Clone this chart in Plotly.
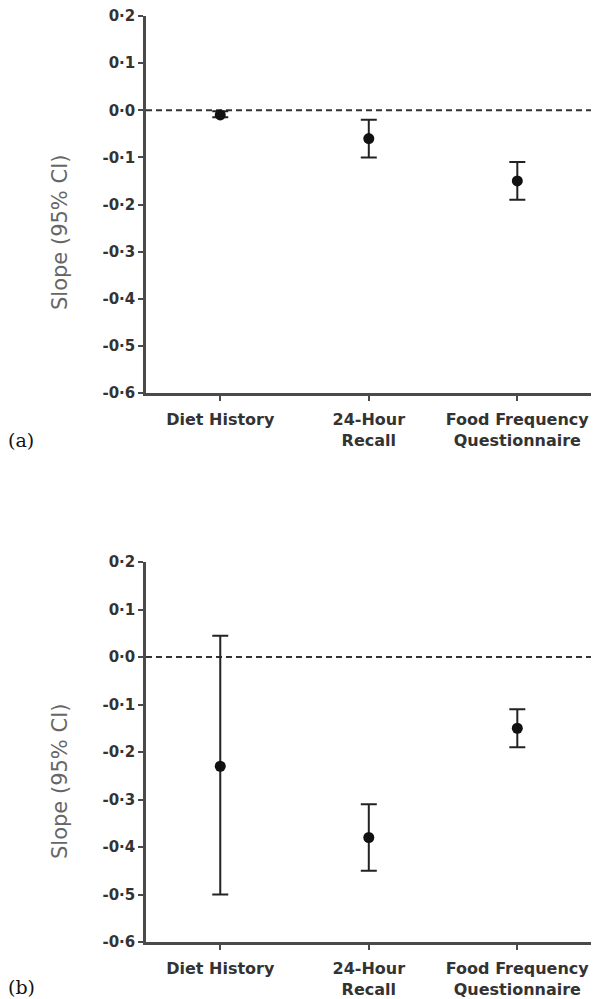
import plotly.graph_objects as go

# categories shared by both panels
categories = ["Diet History", "24-Hour Recall", "Food Frequency Questionnaire"]
cat_labels = ["Diet History", "24-Hour<br>Recall", "Food Frequency<br>Questionnaire"]

# panel (a)
a_slope = [-0.01, -0.06, -0.15]
a_low = [-0.015, -0.10, -0.19]
a_high = [-0.002, -0.02, -0.11]

# panel (b)
b_slope = [-0.23, -0.38, -0.15]
b_low = [-0.50, -0.45, -0.19]
b_high = [0.045, -0.31, -0.11]

y_ticks = [0.2, 0.1, 0.0, -0.1, -0.2, -0.3, -0.4, -0.5, -0.6]
y_ticktext = ["0·2", "0·1", "0·0", "-0·1", "-0·2", "-0·3", "-0·4", "-0·5", "-0·6"]

# page body has an 8px margin, so the figure is a bit smaller than the window
OFF = 8
W, H = 599 - OFF, 999 - OFF
AXIS_COL = "#4a4a4a"
TEXT_COL = "#333333"


def px(x):
    return (x - OFF) / W


def py(y):
    return 1 - (y - OFF) / H


fig = go.Figure()


def add_panel(slope, low, high, xa, ya):
    fig.add_trace(go.Scatter(
        x=list(range(len(categories))),
        y=slope,
        mode="markers",
        marker=dict(color="#111111", size=11),
        error_y=dict(
            type="data",
            symmetric=False,
            array=[h - s for h, s in zip(high, slope)],
            arrayminus=[s - l for s, l in zip(slope, low)],
            color="#222222",
            thickness=2,
            width=8,
        ),
        xaxis=xa, yaxis=ya,
        showlegend=False,
        hovertext=categories,
    ))
    # dashed zero line across the panel
    fig.add_shape(
        type="line", xref=xa + " domain", yref=ya,
        x0=0, x1=1, y0=0, y1=0,
        line=dict(color="#333333", width=2, dash="6px,4px"),
        layer="below",
    )


add_panel(a_slope, a_low, a_high, "x", "y")
add_panel(b_slope, b_low, b_high, "x2", "y2")

x_dom = [px(146), 1.0]
top_dom = [py(393), py(16)]
bot_dom = [py(942), py(562)]

xaxis_style = dict(
    range=[-0.5, 2.55],
    domain=x_dom,
    tickvals=[0, 1, 2],
    ticktext=cat_labels,
    showline=True, linecolor=AXIS_COL, linewidth=2.5,
    ticks="outside", ticklen=5, tickwidth=2, tickcolor=AXIS_COL,
    tickfont=dict(family="DejaVu Sans", size=16, color=TEXT_COL, weight="bold"),
    ticklabelstandoff=5,
    ticklabeloverflow="allow",
    showgrid=False, zeroline=False,
    automargin=False,
)
yaxis_style = dict(
    range=[-0.6, 0.2],
    tickvals=y_ticks,
    ticktext=y_ticktext,
    showline=True, linecolor=AXIS_COL, linewidth=2.5,
    ticks="outside", ticklen=5, tickwidth=2, tickcolor=AXIS_COL,
    tickfont=dict(family="DejaVu Sans", size=15, color=TEXT_COL, weight="bold"),
    ticklabeloverflow="allow",
    showgrid=False, zeroline=False,
    automargin=False,
)

fig.update_layout(
    width=W, height=H,
    margin=dict(l=0, r=0, t=0, b=0),
    paper_bgcolor="white", plot_bgcolor="white",
    xaxis=dict(xaxis_style, anchor="y"),
    yaxis=dict(yaxis_style, domain=top_dom, anchor="x"),
    xaxis2=dict(xaxis_style, anchor="y2"),
    yaxis2=dict(yaxis_style, domain=bot_dom, anchor="x2"),
)

# y axis titles and panel labels
for yc in [232, 781]:
    fig.add_annotation(
        text="Slope (95% CI)", textangle=-90,
        xref="paper", yref="paper", x=px(60), y=py(yc),
        xanchor="center", yanchor="middle",
        showarrow=False,
        font=dict(family="DejaVu Sans", size=21, color="#666666"),
    )
for lab, yc in [("(a)", 440), ("(b)", 987)]:
    fig.add_annotation(
        text=lab, xref="paper", yref="paper",
        x=px(6), y=py(yc), xanchor="left", yanchor="middle",
        showarrow=False,
        font=dict(family="DejaVu Serif", size=19, color="#111111"),
    )

fig.write_html("out.html")
